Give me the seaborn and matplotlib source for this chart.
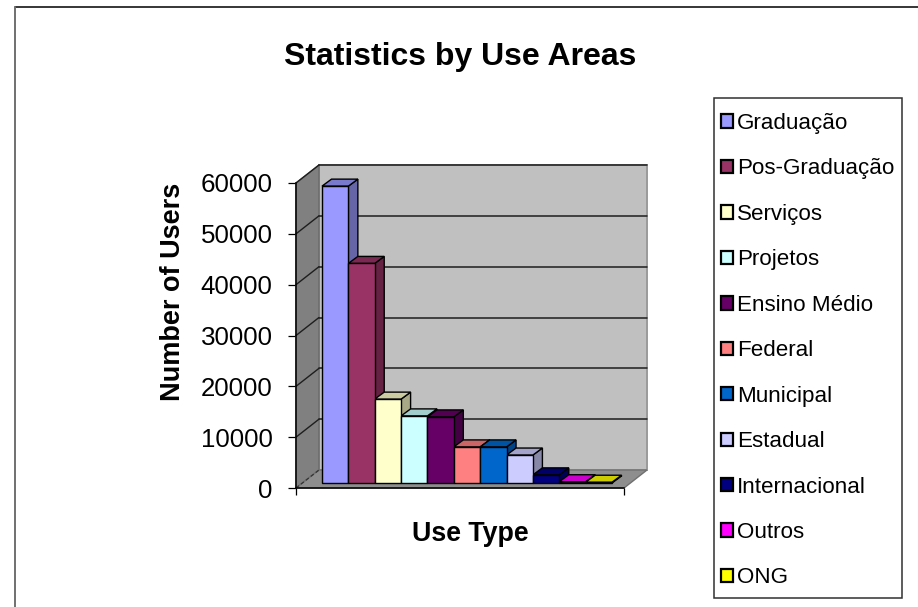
import matplotlib
matplotlib.use("Agg")
import matplotlib.pyplot as plt
from matplotlib.lines import Line2D
from matplotlib.patches import Polygon, Rectangle
import seaborn as sns
import pandas as pd

categories = ["Graduação", "Pos-Graduação", "Serviços", "Projetos", "Ensino Médio",
              "Federal", "Municipal", "Estadual", "Internacional", "Outros", "ONG"]
users = [58400, 43200, 16500, 13200, 13000, 7100, 7100, 5500, 1600, 250, 150]
front_colors = ["#9999FF", "#993366", "#FFFFCC", "#CCFFFF", "#660066", "#FF8080",
                "#0066CC", "#CCCCFF", "#000080", "#FF00FF", "#FFFF00"]
y_ticks = [0, 10000, 20000, 30000, 40000, 50000, 60000]

W, H = 918, 607
sns.set_theme(style="white")
plt.rcParams["font.family"] = ["Liberation Sans", "DejaVu Sans"]
fig = plt.figure(figsize=(W / 100, H / 100), dpi=100, facecolor="white")


def box(l, t, r, b):
    return [l / W, 1 - b / H, (r - l) / W, (b - t) / H]


def shade(hexcolor, f):
    c = matplotlib.colors.to_rgb(hexcolor)
    return tuple(v * f for v in c)


# outer chart frame
fig.add_artist(Line2D([15 / W, 1], [1 - 7 / H, 1 - 7 / H], color="black", lw=1.1))
fig.add_artist(Line2D([15 / W, 15 / W], [0, 1 - 7 / H], color="#707070", lw=1.4))

# main axes: the front plane of the 3-D box
ax = fig.add_axes(box(296, 183, 624, 488))
ax.set_xlim(0, 1)
ax.set_ylim(0, 60000)
ax.patch.set_visible(False)
dx, dy = 23 / 328, 18 / 305 * 60000

wall = dict(clip_on=False, zorder=1)
ax.add_patch(Polygon([(dx, dy), (1 + dx, dy), (1 + dx, 60000 + dy), (dx, 60000 + dy)],
                     facecolor="#C0C0C0", edgecolor="#9A9A9A", lw=1.4, **wall))
ax.add_patch(Polygon([(0, 0), (dx, dy), (dx, 60000 + dy), (0, 60000)],
                     facecolor="#808080", edgecolor="#6A6A6A", lw=1.0, **wall))
ax.add_patch(Polygon([(0, 0), (1, 0), (1 + dx, dy), (dx, dy)],
                     facecolor="#8E8E8E", edgecolor="#707070", lw=1.0, **wall))
for v in y_ticks[1:]:
    ax.plot([dx, 1 + dx], [v + dy, v + dy], color="#1E1E1E", lw=1.1, clip_on=False, zorder=2)
    ax.plot([0, dx], [v, v + dy], color="#1E1E1E", lw=1.0, clip_on=False, zorder=2)
ax.plot([0, dx], [0, dy], color="#333333", lw=0.9, ls=(0, (3, 2)), clip_on=False, zorder=2)

ax.set_yticks(y_ticks)
ax.set_xticks([0, 1])
ax.set_xticklabels([])
ax.tick_params(axis="y", length=5.8, width=0.9, color="black", labelsize=18.6,
               labelcolor="black", pad=11, left=True)
ax.tick_params(axis="x", length=5.2, width=0.9, color="black", bottom=True)
for s in ("top", "right"):
    ax.spines[s].set_visible(False)
for s in ("left", "bottom"):
    ax.spines[s].set_color("black")
    ax.spines[s].set_linewidth(1.1)
    ax.spines[s].set_zorder(3)

ax.set_xlabel("Use Type", fontsize=19.3, fontweight="bold", color="black")
ax.xaxis.set_label_coords((470 - 296) / 328, (488 - 534) / 305, transform=ax.transAxes)
ax.xaxis.label.set_verticalalignment("center")
ax.set_ylabel("Number of Users", fontsize=19.5, fontweight="bold", color="black")
ax.yaxis.set_label_coords((173 - 296) / 328, (488 - 292) / 305, transform=ax.transAxes)
ax.yaxis.label.set_verticalalignment("center")

fig.text(460 / W, 1 - 57.5 / H, "Statistics by Use Areas", ha="center", va="center",
         fontsize=23, fontweight="bold", color="black")

# bar axes: same scale, set back half way into the box
bx = fig.add_axes(box(322, 178, 612, 483))
df = pd.DataFrame({"area": categories, "users": users})
sns.barplot(data=df, x="area", y="users", hue="area", hue_order=categories,
            palette=front_colors, dodge=False, width=1, saturation=1,
            edgecolor="black", linewidth=1.0, ax=bx, legend=True)
bx.set_xlim(-0.5, 10.5)
bx.set_ylim(0, 60000)
bx.axis("off")
for p in bx.patches:
    p.set_zorder(50)
    p.set_clip_on(False)

ddx, ddy = 9.5 / (290 / 11), 7 / 305 * 60000
for i, (v, c) in enumerate(zip(users, front_colors)):
    l, r = i - 0.5, i + 0.5
    bx.add_patch(Polygon([(r, 0), (r + ddx, ddy), (r + ddx, v + ddy), (r, v)],
                         facecolor=shade(c, 0.66), edgecolor="black", lw=1.0,
                         clip_on=False, zorder=10 + i))
    bx.add_patch(Polygon([(l, v), (r, v), (r + ddx, v + ddy), (l + ddx, v + ddy)],
                         facecolor=shade(c, 0.8), edgecolor="black", lw=1.0,
                         clip_on=False, zorder=10 + i))

# legend
fig.add_artist(Rectangle((713.5 / W, 1 - 597.5 / H), (902 - 713.5) / W, (597.5 - 98) / H,
                         transform=fig.transFigure, facecolor="white",
                         edgecolor="#303030", lw=1.1, zorder=-1))
sns.move_legend(bx, loc="upper left", bbox_to_anchor=(720.5 / W, 1 - 113 / H),
                bbox_transform=fig.transFigure, frameon=False, title=None, ncols=1,
                fontsize=16.15, handlelength=0.54, handleheight=0.54, handletextpad=0.2,
                labelspacing=1.09, borderpad=0, borderaxespad=0)
leg = bx.get_legend()
for h in leg.legend_handles:
    h.set_edgecolor("black")
    h.set_linewidth(1.6)
leg.set_zorder(100)
for t in leg.get_texts():
    t.set_color("black")

fig.savefig("out.png", dpi=100, facecolor="white")
